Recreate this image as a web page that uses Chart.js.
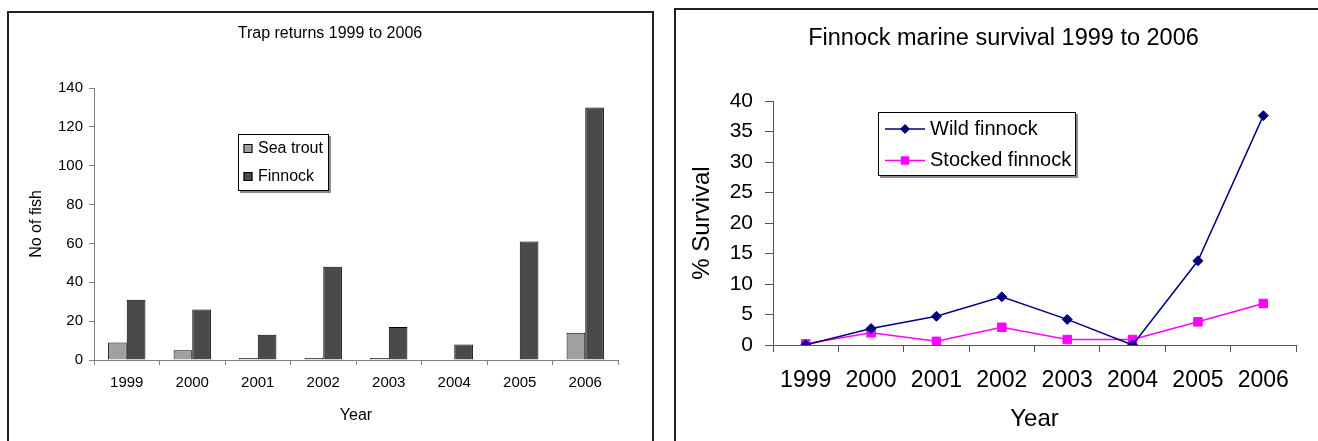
<!DOCTYPE html>
<html>
<head>
<meta charset="utf-8">
<title>Trap returns and finnock marine survival 1999-2006</title>
<script src="https://cdn.jsdelivr.net/npm/chart.js@4/dist/chart.umd.min.js"></script>
<style>
  html, body { margin: 0; padding: 0; background: #fff; overflow: hidden; width: 1318px; height: 441px; }
  .frame { position: absolute; box-sizing: border-box; border: 2px solid #222; }
  #trapFrame { left: 7px; top: 11px; width: 647px; height: 460px; }
  #survFrame { left: 674px; top: 8px; width: 720px; height: 460px; }
  .wrap { position: absolute; top: 0; height: 441px; }
</style>
</head>
<body>
<div class="frame" id="trapFrame"></div>
<div class="frame" id="survFrame"></div>
<div class="wrap" style="left:0; width:660px;"><canvas id="trapChart"></canvas></div>
<div class="wrap" style="left:660px; width:687px;"><canvas id="survChart"></canvas></div>

<script>
// Years sampled
const years = ['1999', '2000', '2001', '2002', '2003', '2004', '2005', '2006'];

// Trap returns (number of fish)
const seaTroutCounts = [9, 5, 1, 1, 1, 0, 0, 14];
const finnockCounts  = [31, 26, 13, 48, 17, 8, 61, 130];

// Finnock marine survival (%)
const wildSurvival    = [0, 2.7, 4.7, 7.9, 4.2, 0, 13.8, 37.6];
const stockedSurvival = [0.2, 2.0, 0.6, 2.9, 0.9, 0.9, 3.8, 6.8];

// Value-axis ranges
const countAxis    = { min: 0, max: 140, step: 20 };
const survivalAxis = { min: 0, max: 40, step: 5 };

Chart.defaults.font.family = '"Liberation Sans", Arial, sans-serif';
Chart.defaults.color = '#000';

// Empty right-hand axis that only reserves space, so the title stays centred on the whole canvas
function spacerAxis(width) {
  return {
    type: 'linear',
    position: 'right',
    display: true,
    grid: { display: false, drawTicks: false },
    border: { display: false },
    ticks: { display: false },
    afterFit(scale) { scale.width = width; }
  };
}

// Boxed legend drawn at a fixed spot inside the plot
const boxLegend = {
  id: 'boxLegend',
  afterDraw(chart, args, o) {
    const ctx = chart.ctx;
    ctx.save();
    ctx.fillStyle = '#8c8c8c';
    ctx.fillRect(o.x + 2, o.y + 2, o.w, o.h);
    ctx.fillStyle = '#fff';
    ctx.fillRect(o.x, o.y, o.w, o.h);
    ctx.strokeStyle = '#000';
    ctx.lineWidth = 1;
    ctx.strokeRect(o.x + 0.5, o.y + 0.5, o.w - 1, o.h - 1);
    ctx.font = o.fontSize + 'px "Liberation Sans", Arial, sans-serif';
    ctx.textBaseline = 'middle';
    ctx.textAlign = 'left';
    chart.data.datasets.forEach((ds, i) => {
      const cy = o.rows[i];
      if (o.line) {
        ctx.strokeStyle = ds.borderColor;
        ctx.lineWidth = ds.borderWidth;
        ctx.beginPath();
        ctx.moveTo(o.line[0], cy);
        ctx.lineTo(o.line[1], cy);
        ctx.stroke();
        const r = ds.pointRadius;
        ctx.fillStyle = ds.pointBackgroundColor;
        ctx.beginPath();
        if (ds.pointStyle === 'rectRot') {
          ctx.moveTo(o.markX, cy - r);
          ctx.lineTo(o.markX + r, cy);
          ctx.lineTo(o.markX, cy + r);
          ctx.lineTo(o.markX - r, cy);
          ctx.closePath();
        } else {
          const s = r * Math.SQRT1_2;
          ctx.rect(o.markX - s, cy - s, 2 * s, 2 * s);
        }
        ctx.fill();
      } else {
        const s = o.markSize;
        ctx.fillStyle = ds.backgroundColor;
        ctx.fillRect(o.markX - s / 2, cy - s / 2, s, s);
        ctx.strokeStyle = '#000';
        ctx.lineWidth = 1;
        ctx.strokeRect(o.markX - s / 2 + 0.5, cy - s / 2 + 0.5, s - 1, s - 1);
      }
      ctx.fillStyle = '#000';
      ctx.fillText(ds.label, o.textX, cy);
    });
    ctx.restore();
  }
};

// Trap returns: clustered bars
new Chart(document.getElementById('trapChart'), {
  type: 'bar',
  data: {
    labels: years,
    datasets: [
      { label: 'Sea trout', data: seaTroutCounts, yAxisID: 'y', backgroundColor: '#a0a0a0', borderColor: '#000', borderWidth: 1, borderSkipped: 'bottom' },
      { label: 'Finnock', data: finnockCounts, yAxisID: 'y', backgroundColor: '#4a4a4a', borderColor: '#000', borderWidth: 1, borderSkipped: 'bottom' }
    ]
  },
  options: {
    responsive: true,
    maintainAspectRatio: false,
    animation: false,
    devicePixelRatio: 1,
    layout: { padding: 0 },
    datasets: { bar: { categoryPercentage: 0.57, barPercentage: 1 } },
    plugins: {
      legend: { display: false },
      tooltip: { enabled: false },
      title: {
        display: true,
        text: 'Trap returns 1999 to 2006',
        color: '#000',
        font: { size: 16, weight: 'normal' },
        padding: { top: 24, bottom: 44.8 }
      },
      boxLegend: { x: 238, y: 134, w: 91, h: 57, rows: [148.5, 176.5], markX: 248, markSize: 9, textX: 258, fontSize: 16 }
    },
    scales: {
      x: {
        offset: true,
        grid: { display: true, drawOnChartArea: false, offset: true, tickLength: 5, color: '#808080' },
        border: { color: '#808080' },
        ticks: { font: { size: 15 }, color: '#000', padding: 9, maxRotation: 0 },
        title: { display: true, text: 'Year', color: '#000', font: { size: 16 }, padding: { top: 0, bottom: 16 } },
        afterFit(scale) { scale.height = 81; }
      },
      y: {
        min: countAxis.min,
        max: countAxis.max,
        ticks: { stepSize: countAxis.step, font: { size: 15 }, color: '#000', padding: 6 },
        grid: { drawOnChartArea: false, tickLength: 5, color: '#808080' },
        border: { color: '#808080' },
        title: { display: true, text: 'No of fish', color: '#000', font: { size: 16 }, padding: { top: 27, bottom: 0 } },
        afterFit(scale) { scale.width = 94; }
      },
      rightGap: spacerAxis(42)
    }
  },
  plugins: [boxLegend]
});

// Marine survival: lines with markers
new Chart(document.getElementById('survChart'), {
  type: 'line',
  data: {
    labels: years,
    datasets: [
      { label: 'Wild finnock', data: wildSurvival, yAxisID: 'y', borderColor: '#000080', backgroundColor: '#000080', borderWidth: 1.5,
        pointStyle: 'rectRot', pointRadius: 5, pointBackgroundColor: '#000080', pointBorderColor: '#000080', pointBorderWidth: 1, tension: 0 },
      { label: 'Stocked finnock', data: stockedSurvival, yAxisID: 'y', borderColor: '#ff00ff', backgroundColor: '#ff00ff', borderWidth: 1.5,
        pointStyle: 'rect', pointRadius: 6, pointBackgroundColor: '#ff00ff', pointBorderColor: '#ff00ff', pointBorderWidth: 1, tension: 0 }
    ]
  },
  options: {
    responsive: true,
    maintainAspectRatio: false,
    animation: false,
    devicePixelRatio: 1,
    layout: { padding: 0 },
    plugins: {
      legend: { display: false },
      tooltip: { enabled: false },
      title: {
        display: true,
        text: 'Finnock marine survival 1999 to 2006',
        color: '#000',
        font: { size: 23.5, weight: 'normal' },
        padding: { top: 24, bottom: 48.8 }
      },
      boxLegend: { x: 218, y: 112, w: 198, h: 64, rows: [129, 160.5], line: [225, 265], markX: 245, textX: 270, fontSize: 20 }
    },
    scales: {
      x: {
        offset: true,
        grid: { display: true, drawOnChartArea: false, offset: true, tickLength: 7, color: '#555' },
        border: { color: '#555' },
        ticks: { font: { size: 23 }, color: '#000', padding: 15, maxRotation: 0 },
        title: { display: true, text: 'Year', color: '#000', font: { size: 24 }, padding: { top: 0, bottom: 7 } },
        afterFit(scale) { scale.height = 96; }
      },
      y: {
        min: survivalAxis.min,
        max: survivalAxis.max,
        ticks: { stepSize: survivalAxis.step, font: { size: 21 }, color: '#000', padding: 12 },
        grid: { drawOnChartArea: false, tickLength: 8, color: '#555' },
        border: { color: '#555' },
        title: { display: true, text: '% Survival', color: '#000', font: { size: 24 }, padding: { top: 28, bottom: 0 } },
        afterFit(scale) { scale.width = 113; }
      },
      rightGap: spacerAxis(51)
    }
  },
  plugins: [boxLegend]
});
</script>
</body>
</html>
